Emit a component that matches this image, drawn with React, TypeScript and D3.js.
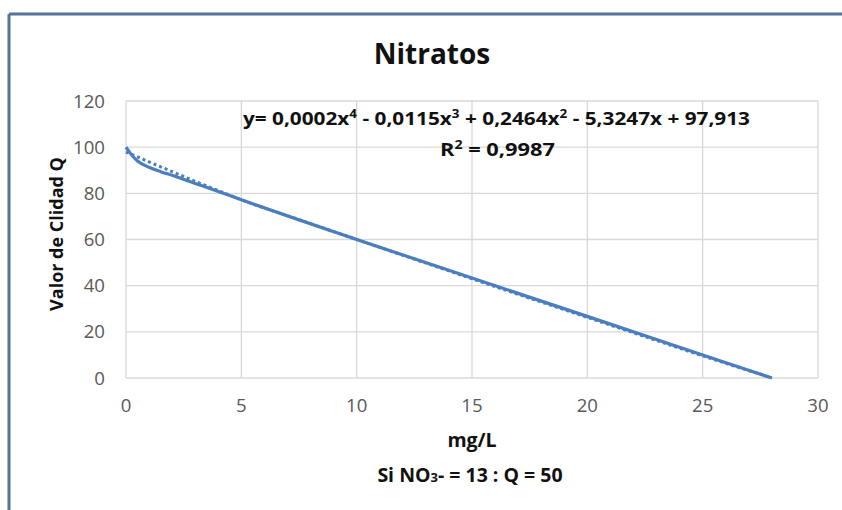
import React, { useEffect } from 'react';
import * as d3 from 'd3';

// measured series (mg/L vs Q)
const seriesX = [0, 0.2, 0.5, 1, 1.5, 2, 3, 4, 5, 10, 15, 20, 25, 28];
const seriesQ = [100, 97.2, 94, 91.3, 89.4, 87.8, 84.3, 80.8, 77.2, 60, 43.3, 26.7, 10, 0];

// polynomial trendline as drawn
const trendX = [0, 0.5, 1, 1.5, 2, 3, 4, 5, 7, 10, 13, 16, 19, 22, 25, 28];
const trendQ = [97.9, 95.8, 93.6, 91.5, 89.4, 85.2, 81.2, 77.2, 70.3, 60, 49.8, 39.6, 29.6, 19.6, 9.6, 0.1];

const xTicks = [0, 5, 10, 15, 20, 25, 30];
const yTicks = [0, 20, 40, 60, 80, 100, 120];

const title = 'Nitratos';
const xTitle = 'mg/L';
const yTitle = 'Valor de Clidad Q';
// equation pieces: [text, superscript]
const eqParts: [string, string][] = [
  ['y= 0,0002x', '4'],
  [' - 0,0115x', '3'],
  [' + 0,2464x', '2'],
  [' - 5,3247x + 97,913', ''],
];
const r2Value = ' = 0,9987';

const W = 842;
const H = 510;
const FONT = "'Open Sans', sans-serif";
const BLUE = '#4a7ebf';

export default function App() {
  useEffect(() => {
    document.body.style.margin = '0';
    document.documentElement.style.overflow = 'hidden';
  }, []);

  const x = d3.scaleLinear().domain([0, 30]).range([126, 818]);
  const y = d3.scaleLinear().domain([0, 120]).range([378, 101]);

  const line = d3.line<number>()
    .x((_, i) => x(seriesX[i]))
    .y(d => y(d))
    .curve(d3.curveMonotoneX);

  const trend = d3.line<number>()
    .x((_, i) => x(trendX[i]))
    .y(d => y(d))
    .curve(d3.curveMonotoneX);

  return (
    <svg width={W} height={H} style={{ display: 'block', background: '#fff', overflow: 'hidden' }}>
      {/* chart frame, only top and left edges are in view */}
      <g stroke="#55739b" strokeWidth={3}>
        <line x1={9} x2={W} y1={14} y2={14} />
        <line x1={9} x2={9} y1={14} y2={H} />
      </g>

      <text x={432} y={64} textAnchor="middle" fontFamily={FONT} fontWeight="bold" fontSize={28} fill="#111">
        {title}
      </text>

      {/* grid */}
      <g stroke="#d9d9d9" strokeWidth={1.3}>
        {xTicks.map(t => (
          <line key={'gx' + t} x1={x(t)} x2={x(t)} y1={y(0)} y2={y(120)} />
        ))}
        {yTicks.map(t => (
          <line key={'gy' + t} x1={x(0)} x2={x(30)} y1={y(t)} y2={y(t)} />
        ))}
      </g>

      {/* tick labels */}
      <g fontFamily={FONT} fontSize={18.6} fill="#595959">
        {yTicks.map(t => (
          <text key={'ly' + t} x={105} y={y(t) + 6.6} textAnchor="end">{t}</text>
        ))}
        {xTicks.map(t => (
          <text key={'lx' + t} x={x(t)} y={412} textAnchor="middle">{t}</text>
        ))}
      </g>

      {/* trendline */}
      <path d={trend(trendQ) || ''} fill="none" stroke={BLUE} strokeWidth={3} strokeDasharray="3 3" />
      {/* series */}
      <path d={line(seriesQ) || ''} fill="none" stroke={BLUE} strokeWidth={3.2} strokeLinejoin="round" />

      {/* trendline label */}
      <g fontFamily={FONT} fontWeight="bold" fontSize={18.5} fill="#111">
        <text x={243} y={125} textLength={507} lengthAdjust="spacingAndGlyphs">
          {eqParts.map(([s, sup], i) => (
            <React.Fragment key={i}>
              <tspan y={125}>{s}</tspan>
              {sup && <tspan fontSize={12} y={118}>{sup}</tspan>}
            </React.Fragment>
          ))}
        </text>
        <text x={440} y={156} textLength={115} lengthAdjust="spacingAndGlyphs">
          R<tspan fontSize={12} y={149}>2</tspan><tspan y={156}>{r2Value}</tspan>
        </text>
      </g>

      {/* axis titles */}
      <text x={472} y={447} textAnchor="middle" fontFamily={FONT} fontWeight="bold" fontSize={19.5} fill="#111">
        {xTitle}
      </text>
      <text transform="translate(63,234) rotate(-90)" textAnchor="middle" fontFamily={FONT} fontWeight="bold" fontSize={18} fill="#111">
        {yTitle}
      </text>

      <text x={470} y={482} textAnchor="middle" fontFamily={FONT} fontWeight="bold" fontSize={19.5} fill="#111">
        Si NO<tspan fontSize={13}>3</tspan>- = 13 : Q = 50
      </text>
    </svg>
  );
}
